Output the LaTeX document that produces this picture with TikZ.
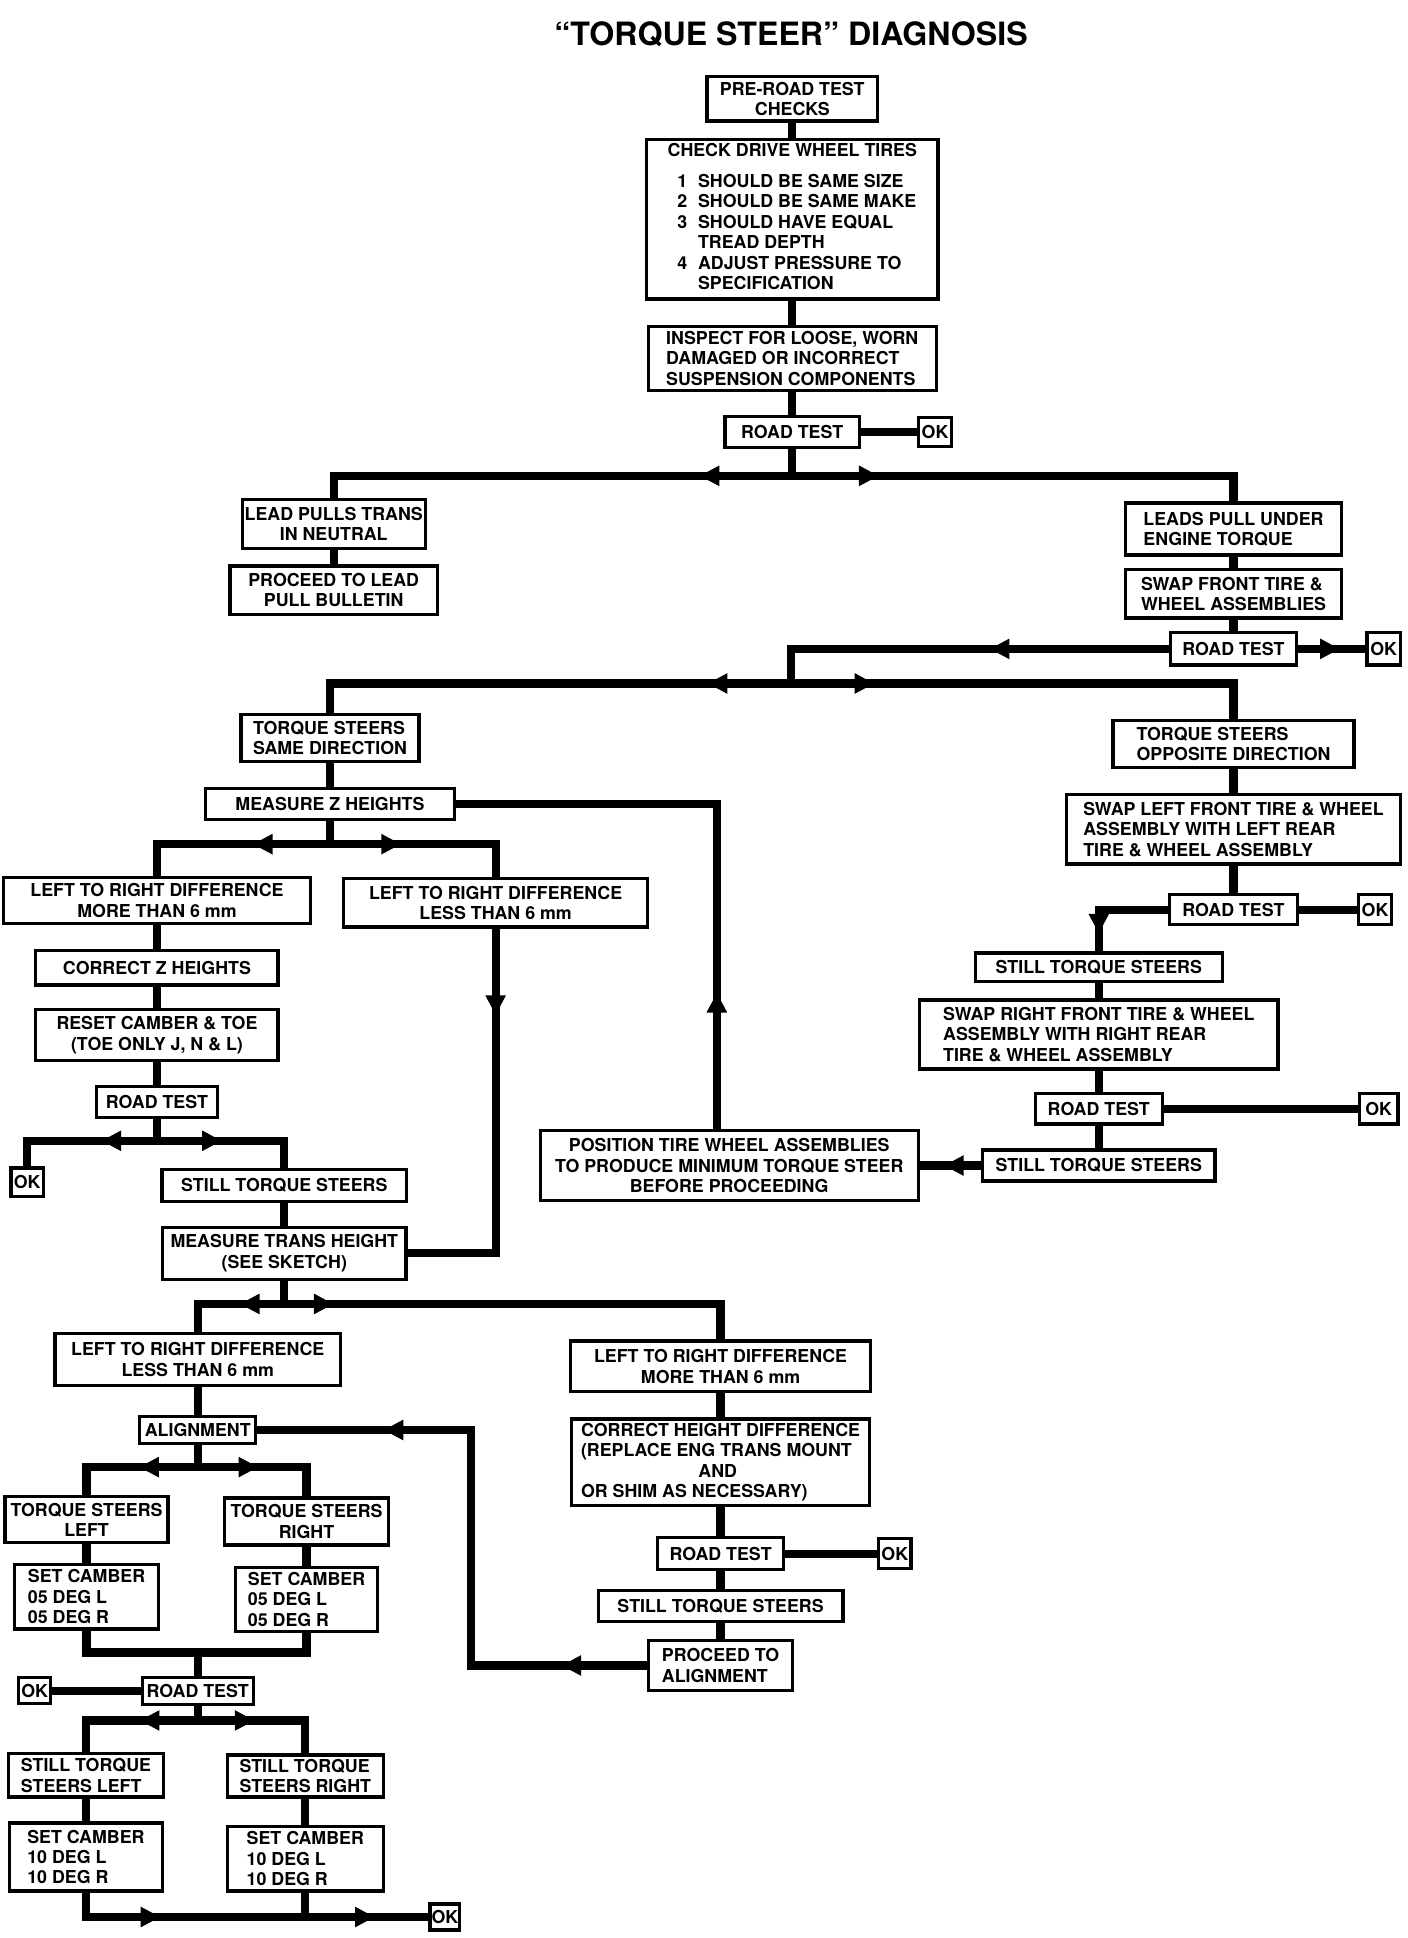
\documentclass[tikz,border=0pt]{standalone}
\usepackage{fontspec}
\setmainfont{TeX Gyre Heros}
\usetikzlibrary{arrows.meta, decorations.markings, positioning}

\newcommand{\chartfont}{\fontsize{8.2}{9.4}\selectfont\bfseries}

\begin{document}
\begin{tikzpicture}[x=0.02cm, y=-0.02cm,
  box/.style={draw, line width=1.5pt, fill=white, inner sep=1pt, font=\chartfont, align=center},
  okbox/.style={box, inner sep=0pt, minimum width=0.54cm, minimum height=0.48cm},
  conn/.style={line width=3.8pt},
  tipat/.style={postaction={decorate, decoration={markings,
      mark=at position #1 with {\arrow{Triangle[length=3.2mm,width=3.1mm]}}}}}]
  \useasboundingbox (0,0) rectangle (1139,1568);
  % title
  \node[font=\fontsize{14.8}{16}\selectfont\bfseries] (title) at (640,28) {“TORQUE STEER” DIAGNOSIS};
  % PRE-ROAD TEST CHECKS - top column
  \node[box, minimum width=2.76cm, minimum height=0.72cm] (pre) at (641,80) {PRE-ROAD TEST\\CHECKS};
  \node[box, align=left, minimum width=4.72cm, minimum height=2.58cm] (tires) at (641,177.5) {CHECK DRIVE WHEEL TIRES\\[5pt]
    \begin{tabular}[t]{@{\hspace{4.5pt}}r@{\hspace{5pt}}l@{}}
      1&SHOULD BE SAME SIZE\\
      2&SHOULD BE SAME MAKE\\
      3&SHOULD HAVE EQUAL\\
       &TREAD DEPTH\\
      4&ADJUST PRESSURE TO\\
       &SPECIFICATION
    \end{tabular}};
  \node[box, align=left, minimum width=4.66cm, minimum height=1.04cm] (inspect) at (641,290) {INSPECT FOR LOOSE, WORN\\DAMAGED OR INCORRECT\\SUSPENSION COMPONENTS};
  \node[box, minimum width=2.18cm, minimum height=0.5cm] (rt1) at (641,349.5) {ROAD TEST};
  \node[okbox] (ok1) at (756.5,349.5) {OK};
  \draw[conn] (pre) -- (tires);
  \draw[conn] (tires) -- (inspect);
  \draw[conn] (inspect) -- (rt1);
  \draw[conn] (rt1) -- (ok1);
  \coordinate (s1) at (641,385);
  \draw[conn] (rt1) -- (s1);
  % lead pulls / leads pull
  \node[box, minimum width=2.96cm, minimum height=0.8cm] (leadpulls) at (270,424) {LEAD PULLS TRANS\\IN NEUTRAL};
  \node[box, minimum width=3.36cm, minimum height=0.78cm] (bulletin) at (270,477.5) {PROCEED TO LEAD\\PULL BULLETIN};
  \node[box, align=left, minimum width=3.5cm, minimum height=0.84cm] (leadsunder) at (998,428) {LEADS PULL UNDER\\ENGINE TORQUE};
  \node[box, align=left, minimum width=3.5cm, minimum height=0.78cm] (swapfront) at (998,480.5) {SWAP FRONT TIRE \&\\WHEEL ASSEMBLIES};
  \node[box, minimum width=2.04cm, minimum height=0.52cm] (rt2) at (998,525) {ROAD TEST};
  \node[okbox, minimum height=0.52cm] (ok2) at (1119.5,525) {OK};
  \draw[conn, tipat=1.5cm] (s1) -| (leadpulls);
  \draw[conn, tipat=1.4cm] (s1) -| (leadsunder);
  \draw[conn] (leadpulls) -- (bulletin);
  \draw[conn] (leadsunder) -- (swapfront);
  \draw[conn] (swapfront) -- (rt2);
  \draw[conn, tipat=0.62] (rt2) -- (ok2);
  \coordinate (s2) at (640,553);
  \draw[conn, tipat=2.9cm] (rt2) -| (s2);
  % same / opposite direction
  \node[box, align=left, minimum width=2.88cm, minimum height=0.76cm] (samedir) at (267,597) {TORQUE STEERS\\SAME DIRECTION};
  \node[box, align=left, minimum width=3.9cm, minimum height=0.76cm] (oppdir) at (998,602) {TORQUE STEERS\\OPPOSITE DIRECTION};
  \draw[conn, tipat=1.35cm] (s2) -| (samedir);
  \draw[conn, tipat=1.35cm] (s2) -| (oppdir);
  \node[box, minimum width=4.02cm, minimum height=0.5cm] (measz) at (267,650.5) {MEASURE Z HEIGHTS};
  \draw[conn] (samedir) -- (measz);
  \coordinate (s3) at (267,683);
  \draw[conn] (measz) -- (s3);
  % Z heights branch
  \node[box, minimum width=4.96cm, minimum height=0.74cm] (lrmore1) at (127,728.5) {LEFT TO RIGHT DIFFERENCE\\MORE THAN 6 mm};
  \node[box, minimum width=4.92cm, minimum height=0.78cm] (lrless1) at (401,730.5) {LEFT TO RIGHT DIFFERENCE\\LESS THAN 6 mm};
  \draw[conn, tipat=1.25cm] (s3) -| (lrmore1);
  \draw[conn, tipat=1.15cm] (s3) -| (lrless1);
  \node[box, minimum width=3.92cm, minimum height=0.56cm] (correctz) at (127,783) {CORRECT Z HEIGHTS};
  \node[box, minimum width=3.92cm, minimum height=0.82cm] (resetcam) at (127,837.5) {RESET CAMBER \& TOE\\(TOE ONLY J, N \& L)};
  \node[box, minimum width=1.96cm, minimum height=0.5cm] (rt3) at (127,891.5) {ROAD TEST};
  \draw[conn] (lrmore1) -- (correctz);
  \draw[conn] (correctz) -- (resetcam);
  \draw[conn] (resetcam) -- (rt3);
  \coordinate (s4) at (127,923);
  \draw[conn] (rt3) -- (s4);
  \node[okbox, minimum width=0.52cm, minimum height=0.46cm] (ok3) at (22,956.5) {OK};
  \node[box, minimum width=3.96cm, minimum height=0.52cm] (still1) at (230,959) {STILL TORQUE STEERS};
  \draw[conn, tipat=0.9cm] (s4) -| (ok3);
  \draw[conn, tipat=1.05cm] (s4) -| (still1);
  \node[box, minimum width=3.94cm, minimum height=0.84cm] (meastrans) at (230,1014) {MEASURE TRANS HEIGHT\\(SEE SKETCH)};
  \draw[conn] (still1) -- (meastrans);
  \draw[conn, tipat=1.4cm] (lrless1) |- (meastrans);
  % right column
  \node[box, align=left, minimum width=5.4cm, minimum height=1.12cm] (swapLF) at (998,671) {SWAP LEFT FRONT TIRE \& WHEEL\\ASSEMBLY WITH LEFT REAR\\TIRE \& WHEEL ASSEMBLY};
  \node[box, minimum width=2.08cm, minimum height=0.48cm] (rt5) at (998,736) {ROAD TEST};
  \node[okbox] (ok5) at (1112.5,736) {OK};
  \draw[conn] (oppdir) -- (swapLF);
  \draw[conn] (swapLF) -- (rt5);
  \draw[conn] (rt5) -- (ok5);
  \node[box, minimum width=4.0cm, minimum height=0.46cm] (still2) at (889,782.5) {STILL TORQUE STEERS};
  \draw[conn, tipat=1.5cm] (rt5) -| (still2);
  \node[box, align=left, minimum width=5.8cm, minimum height=1.12cm] (swapRF) at (889,837) {SWAP RIGHT FRONT TIRE \& WHEEL\\ASSEMBLY WITH RIGHT REAR\\TIRE \& WHEEL ASSEMBLY};
  \node[box, minimum width=2.06cm, minimum height=0.5cm] (rt6) at (889,897) {ROAD TEST};
  \node[okbox, minimum width=0.62cm, minimum height=0.5cm] (ok6) at (1115.5,897) {OK};
  \node[box, minimum width=3.76cm, minimum height=0.5cm] (still3) at (889,943) {STILL TORQUE STEERS};
  \draw[conn] (still2) -- (swapRF);
  \draw[conn] (swapRF) -- (rt6);
  \draw[conn] (rt6) -- (ok6);
  \draw[conn] (rt6) -- (still3);
  \node[box, minimum width=6.12cm, minimum height=1.14cm] (position) at (590,943) {POSITION TIRE WHEEL ASSEMBLIES\\TO PRODUCE MINIMUM TORQUE STEER\\BEFORE PROCEEDING};
  \draw[conn, tipat=0.6cm] (still3) -- (position);
  \draw[conn, tipat=2.2cm] ([xshift=-0.2cm]position.north) |- (measz);
  % trans height branch
  \coordinate (s5) at (230,1055);
  \draw[conn] (meastrans) -- (s5);
  \node[box, minimum width=4.62cm, minimum height=0.84cm] (lrless2) at (160,1100) {LEFT TO RIGHT DIFFERENCE\\LESS THAN 6 mm};
  \node[box, minimum width=4.86cm, minimum height=0.82cm] (lrmore2) at (583,1105.5) {LEFT TO RIGHT DIFFERENCE\\MORE THAN 6 mm};
  \draw[conn, tipat=0.72cm] (s5) -| (lrless2);
  \draw[conn, tipat=0.8cm] (s5) -| (lrmore2);
  \node[box, minimum width=1.88cm, minimum height=0.44cm] (align) at (160,1157) {ALIGNMENT};
  \draw[conn] (lrless2) -- (align);
  \node[box, align=left, minimum width=4.82cm, minimum height=1.4cm] (correcth) at (583,1183) {CORRECT HEIGHT DIFFERENCE\\(REPLACE ENG TRANS MOUNT\\\hspace*{1.9cm}AND\\OR SHIM AS NECESSARY)};
  \node[box, minimum width=2.04cm, minimum height=0.52cm] (rt7) at (583,1257) {ROAD TEST};
  \node[okbox, minimum width=0.52cm] (ok7) at (724,1257) {OK};
  \node[box, minimum width=3.96cm, minimum height=0.5cm] (still4) at (583,1299.5) {STILL TORQUE STEERS};
  \node[box, align=left, minimum width=2.34cm, minimum height=0.82cm] (procalign) at (583,1347.5) {PROCEED TO\\ALIGNMENT};
  \draw[conn] (lrmore2) -- (correcth);
  \draw[conn] (correcth) -- (rt7);
  \draw[conn] (rt7) -- (ok7);
  \draw[conn] (rt7) -- (still4);
  \draw[conn] (still4) -- (procalign);
  \coordinate (r1) at (381,1250);
  \draw[conn, tipat=1.38cm, tipat=8.07cm] (procalign) -| (r1) |- (align);
  % alignment branch
  \coordinate (s6) at (160,1187);
  \draw[conn] (align) -- (s6);
  \node[box, minimum width=2.64cm, minimum height=0.74cm] (tsleft) at (70,1229.5) {TORQUE STEERS\\LEFT};
  \node[box, minimum width=2.66cm, minimum height=0.76cm] (tsright) at (248,1231) {TORQUE STEERS\\RIGHT};
  \draw[conn, tipat=0.95cm] (s6) -| (tsleft);
  \draw[conn, tipat=0.98cm] (s6) -| (tsright);
  \node[box, align=left, minimum width=2.32cm, minimum height=1.04cm] (cam5L) at (70,1292) {SET CAMBER\\05 DEG L\\05 DEG R};
  \node[box, align=left, minimum width=2.3cm, minimum height=1.04cm] (cam5R) at (248,1294) {SET CAMBER\\05 DEG L\\05 DEG R};
  \draw[conn] (tsleft) -- (cam5L);
  \draw[conn] (tsright) -- (cam5R);
  \coordinate (m1) at (160,1337);
  \draw[conn] (cam5L) |- (m1) -| (cam5R);
  \node[box, minimum width=1.8cm, minimum height=0.44cm] (rt8) at (160,1368) {ROAD TEST};
  \node[okbox, minimum width=0.52cm, minimum height=0.42cm] (ok8) at (28,1368) {OK};
  \draw[conn] (m1) -- (rt8);
  \draw[conn] (ok8) -- (rt8);
  \coordinate (s7) at (160,1392);
  \draw[conn] (rt8) -- (s7);
  \node[box, align=left, minimum width=2.5cm, minimum height=0.7cm] (stillL) at (69.5,1436.5) {STILL TORQUE\\STEERS LEFT};
  \node[box, align=left, minimum width=2.52cm, minimum height=0.68cm] (stillR) at (247,1437) {STILL TORQUE\\STEERS RIGHT};
  \draw[conn, tipat=0.94cm] (s7) -| (stillL);
  \draw[conn, tipat=0.92cm] (s7) -| (stillR);
  \node[box, align=left, minimum width=2.48cm, minimum height=1.1cm] (cam10L) at (69.5,1502.5) {SET CAMBER\\10 DEG L\\10 DEG R};
  \node[box, align=left, minimum width=2.52cm, minimum height=1.04cm] (cam10R) at (247,1504) {SET CAMBER\\10 DEG L\\10 DEG R};
  \draw[conn] (stillL) -- (cam10L);
  \draw[conn] (stillR) -- (cam10R);
  \node[okbox, minimum width=0.48cm, minimum height=0.42cm] (ok9) at (360,1551) {OK};
  \coordinate (m2) at (247,1551);
  \draw[conn, tipat=1.6cm, tipat=5.07cm] (cam10L) |- (ok9);
  \draw[conn] (cam10R) -- (m2);
\end{tikzpicture}
\end{document}
